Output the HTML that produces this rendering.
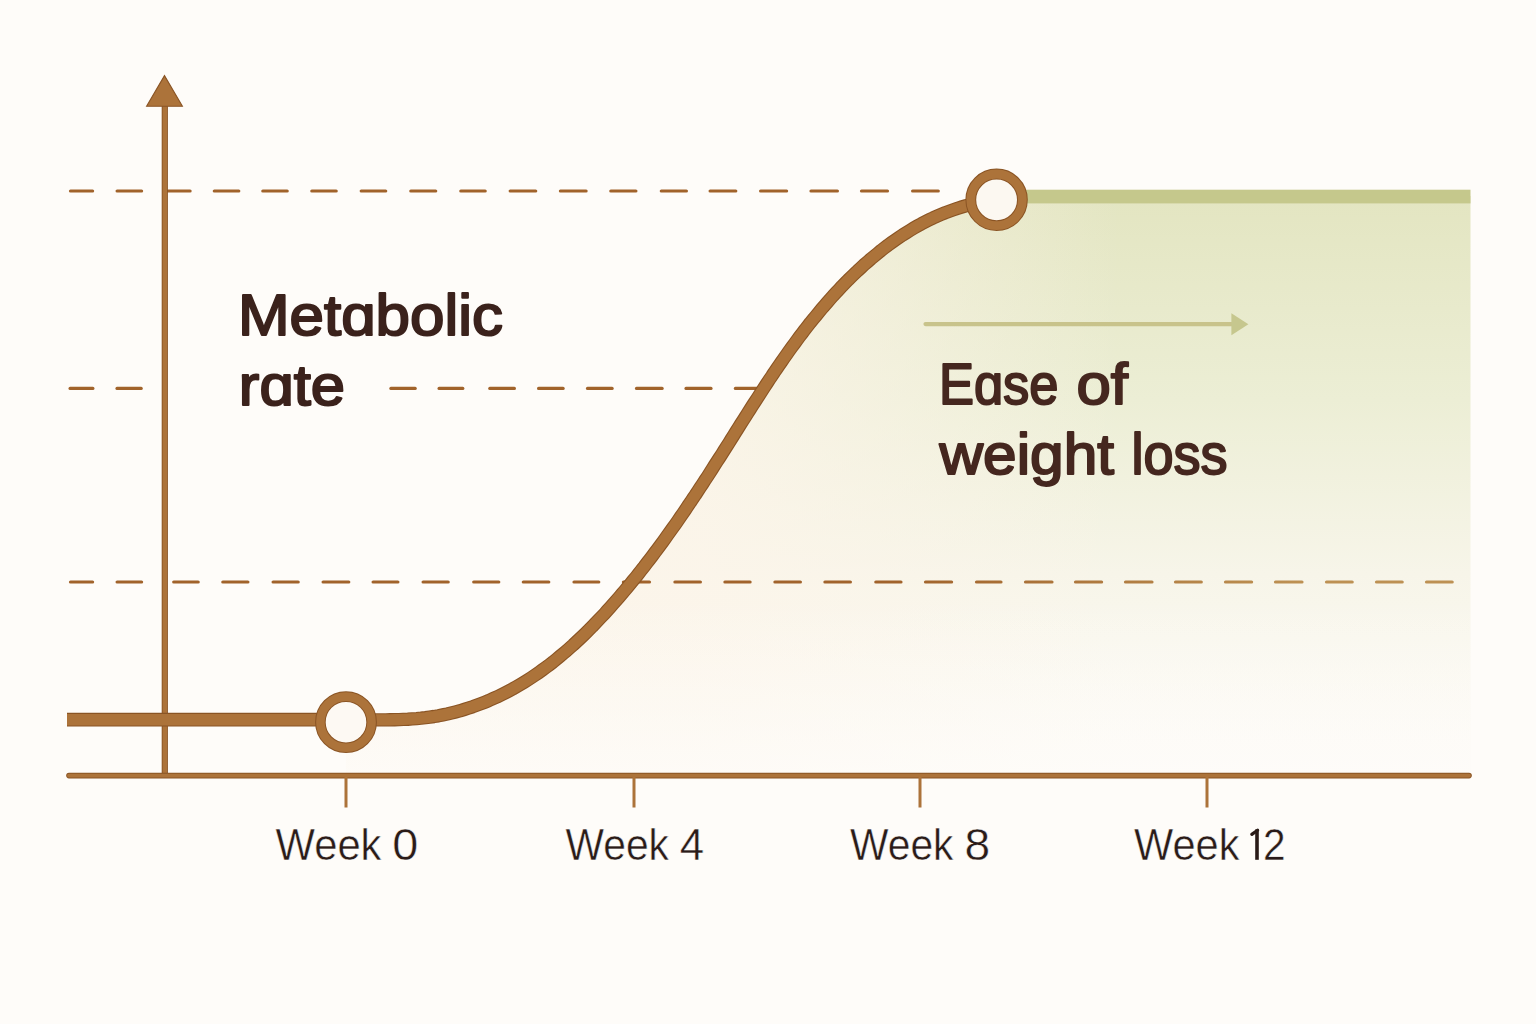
<!DOCTYPE html>
<html><head><meta charset="utf-8"><style>
html,body{margin:0;padding:0;width:1536px;height:1024px;overflow:hidden;background:#fefcf9}
svg{display:block}
text{font-family:"Liberation Sans", sans-serif}
</style></head><body>
<svg width="1536" height="1024" viewBox="0 0 1536 1024">
<defs>
<linearGradient id="gv" x1="0" y1="196" x2="0" y2="776" gradientUnits="userSpaceOnUse">
<stop offset="0" stop-color="#e3e5c1"/>
<stop offset="0.35" stop-color="#eceed5"/>
<stop offset="0.65" stop-color="#f7f5e9"/>
<stop offset="1" stop-color="#fdfbf6"/>
</linearGradient>
<linearGradient id="gh" x1="700" y1="0" x2="1120" y2="0" gradientUnits="userSpaceOnUse">
<stop offset="0" stop-color="#fcf5ea" stop-opacity="0.85"/>
<stop offset="1" stop-color="#fcf5ea" stop-opacity="0"/>
</linearGradient>
<linearGradient id="gb" x1="0" y1="600" x2="0" y2="770" gradientUnits="userSpaceOnUse">
<stop offset="0" stop-color="#fefcf9" stop-opacity="0"/>
<stop offset="1" stop-color="#fefcf9" stop-opacity="0.8"/>
</linearGradient>
<linearGradient id="gd" x1="900" y1="0" x2="1300" y2="0" gradientUnits="userSpaceOnUse">
<stop offset="0" stop-color="#a1632b"/>
<stop offset="1" stop-color="#bd9153"/>
</linearGradient>
</defs>
<rect width="1536" height="1024" fill="#fefcf9"/>
<path d="M 1470.5 196 L 996.5 196 L 996.5 200.0 L 992.0 200.5 L 987.6 201.1 L 983.2 201.9 L 978.8 202.7 L 974.5 203.6 L 970.2 204.7 L 965.9 205.8 L 961.7 207.0 L 957.5 208.3 L 953.4 209.7 L 949.3 211.2 L 945.2 212.7 L 941.1 214.4 L 937.1 216.1 L 933.1 217.9 L 929.2 219.8 L 925.3 221.8 L 921.4 223.8 L 917.6 225.9 L 913.8 228.1 L 910.0 230.4 L 906.3 232.7 L 902.6 235.0 L 898.9 237.5 L 895.3 240.0 L 891.7 242.5 L 888.1 245.1 L 884.6 247.8 L 881.1 250.5 L 877.7 253.3 L 874.3 256.1 L 870.9 258.9 L 867.6 261.8 L 864.2 264.7 L 861.0 267.7 L 857.7 270.7 L 854.5 273.8 L 851.4 276.8 L 848.2 279.9 L 845.1 283.1 L 842.0 286.2 L 839.0 289.4 L 836.0 292.7 L 833.0 295.9 L 830.1 299.2 L 827.2 302.5 L 824.3 305.8 L 821.5 309.1 L 818.7 312.5 L 815.9 315.9 L 813.1 319.3 L 810.3 322.7 L 807.6 326.2 L 804.9 329.6 L 802.3 333.1 L 799.6 336.6 L 797.0 340.1 L 794.4 343.7 L 791.8 347.2 L 789.2 350.8 L 786.7 354.4 L 784.1 358.0 L 781.6 361.6 L 779.1 365.2 L 776.6 368.9 L 774.1 372.5 L 771.7 376.2 L 769.2 379.8 L 766.8 383.5 L 764.4 387.2 L 762.0 390.9 L 759.6 394.6 L 757.2 398.3 L 754.8 402.0 L 752.4 405.7 L 750.0 409.5 L 747.6 413.2 L 745.3 416.9 L 742.9 420.7 L 740.5 424.4 L 738.2 428.1 L 735.8 431.9 L 733.5 435.6 L 731.1 439.4 L 728.8 443.1 L 726.4 446.8 L 724.0 450.6 L 721.7 454.3 L 719.3 458.0 L 716.9 461.7 L 714.5 465.4 L 712.2 469.1 L 709.8 472.9 L 707.4 476.6 L 705.0 480.2 L 702.6 483.9 L 700.1 487.6 L 697.7 491.3 L 695.3 495.0 L 692.8 498.6 L 690.4 502.3 L 687.9 505.9 L 685.5 509.6 L 683.0 513.2 L 680.5 516.8 L 678.0 520.5 L 675.5 524.1 L 672.9 527.7 L 670.4 531.2 L 667.8 534.8 L 665.3 538.4 L 662.7 542.0 L 660.1 545.5 L 657.5 549.0 L 654.8 552.6 L 652.2 556.1 L 649.5 559.6 L 646.8 563.1 L 644.2 566.6 L 641.4 570.0 L 638.7 573.5 L 636.0 576.9 L 633.2 580.3 L 630.4 583.8 L 627.6 587.2 L 624.8 590.5 L 621.9 593.9 L 619.0 597.3 L 616.1 600.6 L 613.2 603.9 L 610.3 607.2 L 607.3 610.5 L 604.4 613.8 L 601.3 617.0 L 598.3 620.2 L 595.2 623.4 L 592.2 626.6 L 589.0 629.8 L 585.9 632.9 L 582.7 636.0 L 579.5 639.0 L 576.3 642.0 L 573.1 645.0 L 569.8 647.9 L 566.5 650.9 L 563.1 653.7 L 559.7 656.5 L 556.3 659.3 L 552.9 662.1 L 549.4 664.8 L 545.9 667.4 L 542.3 670.0 L 538.8 672.6 L 535.2 675.0 L 531.5 677.5 L 527.8 679.9 L 524.1 682.2 L 520.3 684.5 L 516.5 686.7 L 512.7 688.9 L 508.8 691.0 L 504.9 693.0 L 500.9 695.0 L 497.0 696.9 L 492.9 698.7 L 488.9 700.5 L 484.8 702.2 L 480.7 703.8 L 476.6 705.3 L 472.5 706.8 L 468.3 708.2 L 464.1 709.5 L 459.9 710.8 L 455.6 711.9 L 451.3 713.0 L 447.1 714.0 L 442.8 714.9 L 438.4 715.8 L 434.1 716.5 L 429.7 717.1 L 425.4 717.7 L 421.0 718.2 L 416.6 718.6 L 412.2 718.9 L 407.8 719.2 L 403.4 719.4 L 399.0 719.6 L 394.6 719.7 L 390.1 719.8 L 385.7 719.9 L 381.3 719.9 L 376.8 719.9 L 372.4 719.9 L 368.0 719.9 L 363.6 719.9 L 359.2 719.9 L 354.8 719.9 L 350.4 719.9 L 346.0 720.0 L 346 776 L 1470.5 776 Z" fill="url(#gv)"/>
<path d="M 1470.5 196 L 996.5 196 L 996.5 200.0 L 992.0 200.5 L 987.6 201.1 L 983.2 201.9 L 978.8 202.7 L 974.5 203.6 L 970.2 204.7 L 965.9 205.8 L 961.7 207.0 L 957.5 208.3 L 953.4 209.7 L 949.3 211.2 L 945.2 212.7 L 941.1 214.4 L 937.1 216.1 L 933.1 217.9 L 929.2 219.8 L 925.3 221.8 L 921.4 223.8 L 917.6 225.9 L 913.8 228.1 L 910.0 230.4 L 906.3 232.7 L 902.6 235.0 L 898.9 237.5 L 895.3 240.0 L 891.7 242.5 L 888.1 245.1 L 884.6 247.8 L 881.1 250.5 L 877.7 253.3 L 874.3 256.1 L 870.9 258.9 L 867.6 261.8 L 864.2 264.7 L 861.0 267.7 L 857.7 270.7 L 854.5 273.8 L 851.4 276.8 L 848.2 279.9 L 845.1 283.1 L 842.0 286.2 L 839.0 289.4 L 836.0 292.7 L 833.0 295.9 L 830.1 299.2 L 827.2 302.5 L 824.3 305.8 L 821.5 309.1 L 818.7 312.5 L 815.9 315.9 L 813.1 319.3 L 810.3 322.7 L 807.6 326.2 L 804.9 329.6 L 802.3 333.1 L 799.6 336.6 L 797.0 340.1 L 794.4 343.7 L 791.8 347.2 L 789.2 350.8 L 786.7 354.4 L 784.1 358.0 L 781.6 361.6 L 779.1 365.2 L 776.6 368.9 L 774.1 372.5 L 771.7 376.2 L 769.2 379.8 L 766.8 383.5 L 764.4 387.2 L 762.0 390.9 L 759.6 394.6 L 757.2 398.3 L 754.8 402.0 L 752.4 405.7 L 750.0 409.5 L 747.6 413.2 L 745.3 416.9 L 742.9 420.7 L 740.5 424.4 L 738.2 428.1 L 735.8 431.9 L 733.5 435.6 L 731.1 439.4 L 728.8 443.1 L 726.4 446.8 L 724.0 450.6 L 721.7 454.3 L 719.3 458.0 L 716.9 461.7 L 714.5 465.4 L 712.2 469.1 L 709.8 472.9 L 707.4 476.6 L 705.0 480.2 L 702.6 483.9 L 700.1 487.6 L 697.7 491.3 L 695.3 495.0 L 692.8 498.6 L 690.4 502.3 L 687.9 505.9 L 685.5 509.6 L 683.0 513.2 L 680.5 516.8 L 678.0 520.5 L 675.5 524.1 L 672.9 527.7 L 670.4 531.2 L 667.8 534.8 L 665.3 538.4 L 662.7 542.0 L 660.1 545.5 L 657.5 549.0 L 654.8 552.6 L 652.2 556.1 L 649.5 559.6 L 646.8 563.1 L 644.2 566.6 L 641.4 570.0 L 638.7 573.5 L 636.0 576.9 L 633.2 580.3 L 630.4 583.8 L 627.6 587.2 L 624.8 590.5 L 621.9 593.9 L 619.0 597.3 L 616.1 600.6 L 613.2 603.9 L 610.3 607.2 L 607.3 610.5 L 604.4 613.8 L 601.3 617.0 L 598.3 620.2 L 595.2 623.4 L 592.2 626.6 L 589.0 629.8 L 585.9 632.9 L 582.7 636.0 L 579.5 639.0 L 576.3 642.0 L 573.1 645.0 L 569.8 647.9 L 566.5 650.9 L 563.1 653.7 L 559.7 656.5 L 556.3 659.3 L 552.9 662.1 L 549.4 664.8 L 545.9 667.4 L 542.3 670.0 L 538.8 672.6 L 535.2 675.0 L 531.5 677.5 L 527.8 679.9 L 524.1 682.2 L 520.3 684.5 L 516.5 686.7 L 512.7 688.9 L 508.8 691.0 L 504.9 693.0 L 500.9 695.0 L 497.0 696.9 L 492.9 698.7 L 488.9 700.5 L 484.8 702.2 L 480.7 703.8 L 476.6 705.3 L 472.5 706.8 L 468.3 708.2 L 464.1 709.5 L 459.9 710.8 L 455.6 711.9 L 451.3 713.0 L 447.1 714.0 L 442.8 714.9 L 438.4 715.8 L 434.1 716.5 L 429.7 717.1 L 425.4 717.7 L 421.0 718.2 L 416.6 718.6 L 412.2 718.9 L 407.8 719.2 L 403.4 719.4 L 399.0 719.6 L 394.6 719.7 L 390.1 719.8 L 385.7 719.9 L 381.3 719.9 L 376.8 719.9 L 372.4 719.9 L 368.0 719.9 L 363.6 719.9 L 359.2 719.9 L 354.8 719.9 L 350.4 719.9 L 346.0 720.0 L 346 776 L 1470.5 776 Z" fill="url(#gh)"/>
<path d="M 1470.5 196 L 996.5 196 L 996.5 200.0 L 992.0 200.5 L 987.6 201.1 L 983.2 201.9 L 978.8 202.7 L 974.5 203.6 L 970.2 204.7 L 965.9 205.8 L 961.7 207.0 L 957.5 208.3 L 953.4 209.7 L 949.3 211.2 L 945.2 212.7 L 941.1 214.4 L 937.1 216.1 L 933.1 217.9 L 929.2 219.8 L 925.3 221.8 L 921.4 223.8 L 917.6 225.9 L 913.8 228.1 L 910.0 230.4 L 906.3 232.7 L 902.6 235.0 L 898.9 237.5 L 895.3 240.0 L 891.7 242.5 L 888.1 245.1 L 884.6 247.8 L 881.1 250.5 L 877.7 253.3 L 874.3 256.1 L 870.9 258.9 L 867.6 261.8 L 864.2 264.7 L 861.0 267.7 L 857.7 270.7 L 854.5 273.8 L 851.4 276.8 L 848.2 279.9 L 845.1 283.1 L 842.0 286.2 L 839.0 289.4 L 836.0 292.7 L 833.0 295.9 L 830.1 299.2 L 827.2 302.5 L 824.3 305.8 L 821.5 309.1 L 818.7 312.5 L 815.9 315.9 L 813.1 319.3 L 810.3 322.7 L 807.6 326.2 L 804.9 329.6 L 802.3 333.1 L 799.6 336.6 L 797.0 340.1 L 794.4 343.7 L 791.8 347.2 L 789.2 350.8 L 786.7 354.4 L 784.1 358.0 L 781.6 361.6 L 779.1 365.2 L 776.6 368.9 L 774.1 372.5 L 771.7 376.2 L 769.2 379.8 L 766.8 383.5 L 764.4 387.2 L 762.0 390.9 L 759.6 394.6 L 757.2 398.3 L 754.8 402.0 L 752.4 405.7 L 750.0 409.5 L 747.6 413.2 L 745.3 416.9 L 742.9 420.7 L 740.5 424.4 L 738.2 428.1 L 735.8 431.9 L 733.5 435.6 L 731.1 439.4 L 728.8 443.1 L 726.4 446.8 L 724.0 450.6 L 721.7 454.3 L 719.3 458.0 L 716.9 461.7 L 714.5 465.4 L 712.2 469.1 L 709.8 472.9 L 707.4 476.6 L 705.0 480.2 L 702.6 483.9 L 700.1 487.6 L 697.7 491.3 L 695.3 495.0 L 692.8 498.6 L 690.4 502.3 L 687.9 505.9 L 685.5 509.6 L 683.0 513.2 L 680.5 516.8 L 678.0 520.5 L 675.5 524.1 L 672.9 527.7 L 670.4 531.2 L 667.8 534.8 L 665.3 538.4 L 662.7 542.0 L 660.1 545.5 L 657.5 549.0 L 654.8 552.6 L 652.2 556.1 L 649.5 559.6 L 646.8 563.1 L 644.2 566.6 L 641.4 570.0 L 638.7 573.5 L 636.0 576.9 L 633.2 580.3 L 630.4 583.8 L 627.6 587.2 L 624.8 590.5 L 621.9 593.9 L 619.0 597.3 L 616.1 600.6 L 613.2 603.9 L 610.3 607.2 L 607.3 610.5 L 604.4 613.8 L 601.3 617.0 L 598.3 620.2 L 595.2 623.4 L 592.2 626.6 L 589.0 629.8 L 585.9 632.9 L 582.7 636.0 L 579.5 639.0 L 576.3 642.0 L 573.1 645.0 L 569.8 647.9 L 566.5 650.9 L 563.1 653.7 L 559.7 656.5 L 556.3 659.3 L 552.9 662.1 L 549.4 664.8 L 545.9 667.4 L 542.3 670.0 L 538.8 672.6 L 535.2 675.0 L 531.5 677.5 L 527.8 679.9 L 524.1 682.2 L 520.3 684.5 L 516.5 686.7 L 512.7 688.9 L 508.8 691.0 L 504.9 693.0 L 500.9 695.0 L 497.0 696.9 L 492.9 698.7 L 488.9 700.5 L 484.8 702.2 L 480.7 703.8 L 476.6 705.3 L 472.5 706.8 L 468.3 708.2 L 464.1 709.5 L 459.9 710.8 L 455.6 711.9 L 451.3 713.0 L 447.1 714.0 L 442.8 714.9 L 438.4 715.8 L 434.1 716.5 L 429.7 717.1 L 425.4 717.7 L 421.0 718.2 L 416.6 718.6 L 412.2 718.9 L 407.8 719.2 L 403.4 719.4 L 399.0 719.6 L 394.6 719.7 L 390.1 719.8 L 385.7 719.9 L 381.3 719.9 L 376.8 719.9 L 372.4 719.9 L 368.0 719.9 L 363.6 719.9 L 359.2 719.9 L 354.8 719.9 L 350.4 719.9 L 346.0 720.0 L 346 776 L 1470.5 776 Z" fill="url(#gb)"/>
<rect x="996" y="189.7" width="474.5" height="13.7" fill="#c5c88c"/>
<g stroke="#a1632b" stroke-width="3.2" stroke-linecap="round" fill="none">
<line x1="70.5" y1="191" x2="92.6" y2="191"/><line x1="117.1" y1="191" x2="141.6" y2="191"/><line x1="168.1" y1="191" x2="190.1" y2="191"/><line x1="214.3" y1="191" x2="238.8" y2="191"/><line x1="262.8" y1="191" x2="287.2" y2="191"/><line x1="311.8" y1="191" x2="336.2" y2="191"/><line x1="361.2" y1="191" x2="385.7" y2="191"/><line x1="410.8" y1="191" x2="435.7" y2="191"/><line x1="460.8" y1="191" x2="485.2" y2="191"/><line x1="510.2" y1="191" x2="535.7" y2="191"/><line x1="560.4" y1="191" x2="586.1" y2="191"/><line x1="610.8" y1="191" x2="635.9" y2="191"/><line x1="661.3" y1="191" x2="686.4" y2="191"/><line x1="710.1" y1="191" x2="735.8" y2="191"/><line x1="760.6" y1="191" x2="786.6" y2="191"/><line x1="811.0" y1="191" x2="837.4" y2="191"/><line x1="861.5" y1="191" x2="887.5" y2="191"/><line x1="912.6" y1="191" x2="938.3" y2="191"/>
<line x1="70.1" y1="388.4" x2="92.9" y2="388.4"/><line x1="117.0" y1="388.4" x2="141.2" y2="388.4"/><line x1="390.9" y1="388.4" x2="415.2" y2="388.4"/><line x1="439.1" y1="388.4" x2="462.8" y2="388.4"/><line x1="489.8" y1="388.4" x2="514.4" y2="388.4"/><line x1="538.6" y1="388.4" x2="563.1" y2="388.4"/><line x1="587.5" y1="388.4" x2="612.1" y2="388.4"/><line x1="636.5" y1="388.4" x2="662.1" y2="388.4"/><line x1="686.0" y1="388.4" x2="711.0" y2="388.4"/><line x1="735.4" y1="388.4" x2="760.2" y2="388.4"/>
</g>
<g stroke="url(#gd)" stroke-width="3.2" stroke-linecap="round" fill="none">
<line x1="70.5" y1="582" x2="92.6" y2="582"/><line x1="117.1" y1="582" x2="141.6" y2="582"/><line x1="173.7" y1="582" x2="198.2" y2="582"/><line x1="222.8" y1="582" x2="247.9" y2="582"/><line x1="273.1" y1="582" x2="298.2" y2="582"/><line x1="323.1" y1="582" x2="348.8" y2="582"/><line x1="373.1" y1="582" x2="397.9" y2="582"/><line x1="423.1" y1="582" x2="448.2" y2="582"/><line x1="473.7" y1="582" x2="498.8" y2="582"/><line x1="523.3" y1="582" x2="548.8" y2="582"/><line x1="574.0" y1="582" x2="598.8" y2="582"/><line x1="623.4" y1="582" x2="649.5" y2="582"/><line x1="674.9" y1="582" x2="700.4" y2="582"/><line x1="724.9" y1="582" x2="750.1" y2="582"/><line x1="774.9" y1="582" x2="800.4" y2="582"/><line x1="824.9" y1="582" x2="850.4" y2="582"/><line x1="875.8" y1="582" x2="901.0" y2="582"/><line x1="925.5" y1="582" x2="951.6" y2="582"/><line x1="976.5" y1="582" x2="1001.0" y2="582"/><line x1="1025.5" y1="582" x2="1052.0" y2="582"/><line x1="1075.5" y1="582" x2="1101.6" y2="582"/><line x1="1125.5" y1="582" x2="1152.0" y2="582"/><line x1="1175.5" y1="582" x2="1201.3" y2="582"/><line x1="1225.5" y1="582" x2="1251.6" y2="582"/><line x1="1275.5" y1="582" x2="1302.0" y2="582"/><line x1="1326.5" y1="582" x2="1352.2" y2="582"/><line x1="1376.5" y1="582" x2="1402.2" y2="582"/><line x1="1426.5" y1="582" x2="1452.2" y2="582"/>
</g>
<line x1="164.8" y1="104" x2="164.8" y2="776" stroke="#8a5424" stroke-width="6.2"/><line x1="164.8" y1="104" x2="164.8" y2="776" stroke="#ac733a" stroke-width="4.4"/>
<polygon points="164.5,75.6 146.6,106.2 182.4,106.2" fill="#ac733a" stroke="#8a5424" stroke-width="1.1" stroke-linejoin="miter"/>
<line x1="69" y1="775.6" x2="1469" y2="775.6" stroke="#8a5424" stroke-width="5.6" stroke-linecap="round"/><line x1="69" y1="775.6" x2="1469" y2="775.6" stroke="#ac733a" stroke-width="3.8" stroke-linecap="round"/>
<g stroke="#ac733a" stroke-width="3">
<line x1="346" y1="776" x2="346" y2="807.5"/>
<line x1="634" y1="776" x2="634" y2="807.5"/>
<line x1="920" y1="776" x2="920" y2="807.5"/>
<line x1="1207" y1="776" x2="1207" y2="807.5"/>
</g>
<line x1="67" y1="719.7" x2="346" y2="719.7" stroke="#8a5424" stroke-width="13.7"/>
<line x1="67" y1="719.7" x2="346" y2="719.7" stroke="#ac733a" stroke-width="11.5"/>
<path d="M346.0 720.0 L350.4 719.9 L354.8 719.9 L359.2 719.9 L363.6 719.9 L368.0 719.9 L372.4 719.9 L376.8 719.9 L381.3 719.9 L385.7 719.9 L390.1 719.8 L394.6 719.7 L399.0 719.6 L403.4 719.4 L407.8 719.2 L412.2 718.9 L416.6 718.6 L421.0 718.2 L425.4 717.7 L429.7 717.1 L434.1 716.5 L438.4 715.8 L442.8 714.9 L447.1 714.0 L451.3 713.0 L455.6 711.9 L459.9 710.8 L464.1 709.5 L468.3 708.2 L472.5 706.8 L476.6 705.3 L480.7 703.8 L484.8 702.2 L488.9 700.5 L492.9 698.7 L497.0 696.9 L500.9 695.0 L504.9 693.0 L508.8 691.0 L512.7 688.9 L516.5 686.7 L520.3 684.5 L524.1 682.2 L527.8 679.9 L531.5 677.5 L535.2 675.0 L538.8 672.6 L542.3 670.0 L545.9 667.4 L549.4 664.8 L552.9 662.1 L556.3 659.3 L559.7 656.5 L563.1 653.7 L566.5 650.9 L569.8 647.9 L573.1 645.0 L576.3 642.0 L579.5 639.0 L582.7 636.0 L585.9 632.9 L589.0 629.8 L592.2 626.6 L595.2 623.4 L598.3 620.2 L601.3 617.0 L604.4 613.8 L607.3 610.5 L610.3 607.2 L613.2 603.9 L616.1 600.6 L619.0 597.3 L621.9 593.9 L624.8 590.5 L627.6 587.2 L630.4 583.8 L633.2 580.3 L636.0 576.9 L638.7 573.5 L641.4 570.0 L644.2 566.6 L646.8 563.1 L649.5 559.6 L652.2 556.1 L654.8 552.6 L657.5 549.0 L660.1 545.5 L662.7 542.0 L665.3 538.4 L667.8 534.8 L670.4 531.2 L672.9 527.7 L675.5 524.1 L678.0 520.5 L680.5 516.8 L683.0 513.2 L685.5 509.6 L687.9 505.9 L690.4 502.3 L692.8 498.6 L695.3 495.0 L697.7 491.3 L700.1 487.6 L702.6 483.9 L705.0 480.2 L707.4 476.6 L709.8 472.9 L712.2 469.1 L714.5 465.4 L716.9 461.7 L719.3 458.0 L721.7 454.3 L724.0 450.6 L726.4 446.8 L728.8 443.1 L731.1 439.4 L733.5 435.6 L735.8 431.9 L738.2 428.1 L740.5 424.4 L742.9 420.7 L745.3 416.9 L747.6 413.2 L750.0 409.5 L752.4 405.7 L754.8 402.0 L757.2 398.3 L759.6 394.6 L762.0 390.9 L764.4 387.2 L766.8 383.5 L769.2 379.8 L771.7 376.2 L774.1 372.5 L776.6 368.9 L779.1 365.2 L781.6 361.6 L784.1 358.0 L786.7 354.4 L789.2 350.8 L791.8 347.2 L794.4 343.7 L797.0 340.1 L799.6 336.6 L802.3 333.1 L804.9 329.6 L807.6 326.2 L810.3 322.7 L813.1 319.3 L815.9 315.9 L818.7 312.5 L821.5 309.1 L824.3 305.8 L827.2 302.5 L830.1 299.2 L833.0 295.9 L836.0 292.7 L839.0 289.4 L842.0 286.2 L845.1 283.1 L848.2 279.9 L851.4 276.8 L854.5 273.8 L857.7 270.7 L861.0 267.7 L864.2 264.7 L867.6 261.8 L870.9 258.9 L874.3 256.1 L877.7 253.3 L881.1 250.5 L884.6 247.8 L888.1 245.1 L891.7 242.5 L895.3 240.0 L898.9 237.5 L902.6 235.0 L906.3 232.7 L910.0 230.4 L913.8 228.1 L917.6 225.9 L921.4 223.8 L925.3 221.8 L929.2 219.8 L933.1 217.9 L937.1 216.1 L941.1 214.4 L945.2 212.7 L949.3 211.2 L953.4 209.7 L957.5 208.3 L961.7 207.0 L965.9 205.8 L970.2 204.7 L974.5 203.6 L978.8 202.7 L983.2 201.9 L987.6 201.1 L992.0 200.5 L996.5 200.0" stroke="#8a5424" stroke-width="13.4" fill="none" stroke-linecap="round" stroke-linejoin="round"/>
<path d="M346.0 720.0 L350.4 719.9 L354.8 719.9 L359.2 719.9 L363.6 719.9 L368.0 719.9 L372.4 719.9 L376.8 719.9 L381.3 719.9 L385.7 719.9 L390.1 719.8 L394.6 719.7 L399.0 719.6 L403.4 719.4 L407.8 719.2 L412.2 718.9 L416.6 718.6 L421.0 718.2 L425.4 717.7 L429.7 717.1 L434.1 716.5 L438.4 715.8 L442.8 714.9 L447.1 714.0 L451.3 713.0 L455.6 711.9 L459.9 710.8 L464.1 709.5 L468.3 708.2 L472.5 706.8 L476.6 705.3 L480.7 703.8 L484.8 702.2 L488.9 700.5 L492.9 698.7 L497.0 696.9 L500.9 695.0 L504.9 693.0 L508.8 691.0 L512.7 688.9 L516.5 686.7 L520.3 684.5 L524.1 682.2 L527.8 679.9 L531.5 677.5 L535.2 675.0 L538.8 672.6 L542.3 670.0 L545.9 667.4 L549.4 664.8 L552.9 662.1 L556.3 659.3 L559.7 656.5 L563.1 653.7 L566.5 650.9 L569.8 647.9 L573.1 645.0 L576.3 642.0 L579.5 639.0 L582.7 636.0 L585.9 632.9 L589.0 629.8 L592.2 626.6 L595.2 623.4 L598.3 620.2 L601.3 617.0 L604.4 613.8 L607.3 610.5 L610.3 607.2 L613.2 603.9 L616.1 600.6 L619.0 597.3 L621.9 593.9 L624.8 590.5 L627.6 587.2 L630.4 583.8 L633.2 580.3 L636.0 576.9 L638.7 573.5 L641.4 570.0 L644.2 566.6 L646.8 563.1 L649.5 559.6 L652.2 556.1 L654.8 552.6 L657.5 549.0 L660.1 545.5 L662.7 542.0 L665.3 538.4 L667.8 534.8 L670.4 531.2 L672.9 527.7 L675.5 524.1 L678.0 520.5 L680.5 516.8 L683.0 513.2 L685.5 509.6 L687.9 505.9 L690.4 502.3 L692.8 498.6 L695.3 495.0 L697.7 491.3 L700.1 487.6 L702.6 483.9 L705.0 480.2 L707.4 476.6 L709.8 472.9 L712.2 469.1 L714.5 465.4 L716.9 461.7 L719.3 458.0 L721.7 454.3 L724.0 450.6 L726.4 446.8 L728.8 443.1 L731.1 439.4 L733.5 435.6 L735.8 431.9 L738.2 428.1 L740.5 424.4 L742.9 420.7 L745.3 416.9 L747.6 413.2 L750.0 409.5 L752.4 405.7 L754.8 402.0 L757.2 398.3 L759.6 394.6 L762.0 390.9 L764.4 387.2 L766.8 383.5 L769.2 379.8 L771.7 376.2 L774.1 372.5 L776.6 368.9 L779.1 365.2 L781.6 361.6 L784.1 358.0 L786.7 354.4 L789.2 350.8 L791.8 347.2 L794.4 343.7 L797.0 340.1 L799.6 336.6 L802.3 333.1 L804.9 329.6 L807.6 326.2 L810.3 322.7 L813.1 319.3 L815.9 315.9 L818.7 312.5 L821.5 309.1 L824.3 305.8 L827.2 302.5 L830.1 299.2 L833.0 295.9 L836.0 292.7 L839.0 289.4 L842.0 286.2 L845.1 283.1 L848.2 279.9 L851.4 276.8 L854.5 273.8 L857.7 270.7 L861.0 267.7 L864.2 264.7 L867.6 261.8 L870.9 258.9 L874.3 256.1 L877.7 253.3 L881.1 250.5 L884.6 247.8 L888.1 245.1 L891.7 242.5 L895.3 240.0 L898.9 237.5 L902.6 235.0 L906.3 232.7 L910.0 230.4 L913.8 228.1 L917.6 225.9 L921.4 223.8 L925.3 221.8 L929.2 219.8 L933.1 217.9 L937.1 216.1 L941.1 214.4 L945.2 212.7 L949.3 211.2 L953.4 209.7 L957.5 208.3 L961.7 207.0 L965.9 205.8 L970.2 204.7 L974.5 203.6 L978.8 202.7 L983.2 201.9 L987.6 201.1 L992.0 200.5 L996.5 200.0" stroke="#ac733a" stroke-width="11.2" fill="none" stroke-linecap="round" stroke-linejoin="round"/>
<circle cx="346" cy="722.2" r="25.6" fill="#fdf9f3" stroke="#8a5424" stroke-width="10.6"/>
<circle cx="346" cy="722.2" r="25.6" fill="none" stroke="#ac733a" stroke-width="8.6"/>
<circle cx="996.6" cy="199.8" r="25.8" fill="#fcf8f1" stroke="#8a5424" stroke-width="10.8"/>
<circle cx="996.6" cy="199.8" r="25.8" fill="none" stroke="#ac733a" stroke-width="8.8"/>
<line x1="925.5" y1="324.1" x2="1233" y2="324.1" stroke="#c8c38b" stroke-width="4.2" stroke-linecap="round"/>
<polygon points="1231.4,313.2 1248.4,324.2 1231.4,335.2" fill="#c6c78e"/>
<text x="237.92" y="335" font-size="57.5" fill="#3b221c" stroke="#3b221c" stroke-width="2" stroke-linejoin="round" textLength="265.10" lengthAdjust="spacingAndGlyphs">Met&#x251;bolic</text>
<text x="238.86" y="404.6" font-size="57.5" fill="#3b221c" stroke="#3b221c" stroke-width="2" stroke-linejoin="round" textLength="106.21" lengthAdjust="spacingAndGlyphs">r&#x251;te</text>
<text x="938.88" y="404" font-size="57.5" fill="#45271f" stroke="#45271f" stroke-width="2" stroke-linejoin="round" textLength="119.67" lengthAdjust="spacingAndGlyphs">E&#x251;se</text>
<text x="1076.49" y="404" font-size="57.5" fill="#45271f" stroke="#45271f" stroke-width="2" stroke-linejoin="round" textLength="51.51" lengthAdjust="spacingAndGlyphs">of</text>
<text x="939.49" y="473.8" font-size="57.5" fill="#45271f" stroke="#45271f" stroke-width="2" stroke-linejoin="round" textLength="174.52" lengthAdjust="spacingAndGlyphs">weight</text>
<text x="1131.40" y="473.8" font-size="57.5" fill="#45271f" stroke="#45271f" stroke-width="2" stroke-linejoin="round" textLength="96.14" lengthAdjust="spacingAndGlyphs">loss</text>
<text x="275.49" y="860" font-size="44" fill="#2a1b18" stroke="#fefcf9" stroke-width="0.45" textLength="106.02" lengthAdjust="spacingAndGlyphs">Week</text>
<text x="392.21" y="860" font-size="44" fill="#2a1b18" stroke="#fefcf9" stroke-width="0.45" textLength="26.07" lengthAdjust="spacingAndGlyphs">0</text>
<text x="565.50" y="860" font-size="44" fill="#2a1b18" stroke="#fefcf9" stroke-width="0.45" textLength="103.50" lengthAdjust="spacingAndGlyphs">Week</text>
<text x="679.84" y="860" font-size="44" fill="#2a1b18" stroke="#fefcf9" stroke-width="0.45" textLength="24.39" lengthAdjust="spacingAndGlyphs">4</text>
<text x="850.00" y="860" font-size="44" fill="#2a1b18" stroke="#fefcf9" stroke-width="0.45" textLength="103.50" lengthAdjust="spacingAndGlyphs">Week</text>
<text x="964.59" y="860" font-size="44" fill="#2a1b18" stroke="#fefcf9" stroke-width="0.45" textLength="25.69" lengthAdjust="spacingAndGlyphs">8</text>
<text x="1134.00" y="860" font-size="44" fill="#2a1b18" stroke="#fefcf9" stroke-width="0.45" textLength="105.50" lengthAdjust="spacingAndGlyphs">Week</text>
<text x="1263.12" y="860" font-size="44" fill="#2a1b18" stroke="#fefcf9" stroke-width="0.45" textLength="22.60" lengthAdjust="spacingAndGlyphs">2</text>
<path d="M1257 829.4 V859.8" stroke="#2a1b18" stroke-width="3.6" fill="none"/><path d="M1251.8 834.4 L1257.6 830.2" stroke="#2a1b18" stroke-width="3.2" stroke-linecap="round" fill="none"/>
</svg>
</body></html>
